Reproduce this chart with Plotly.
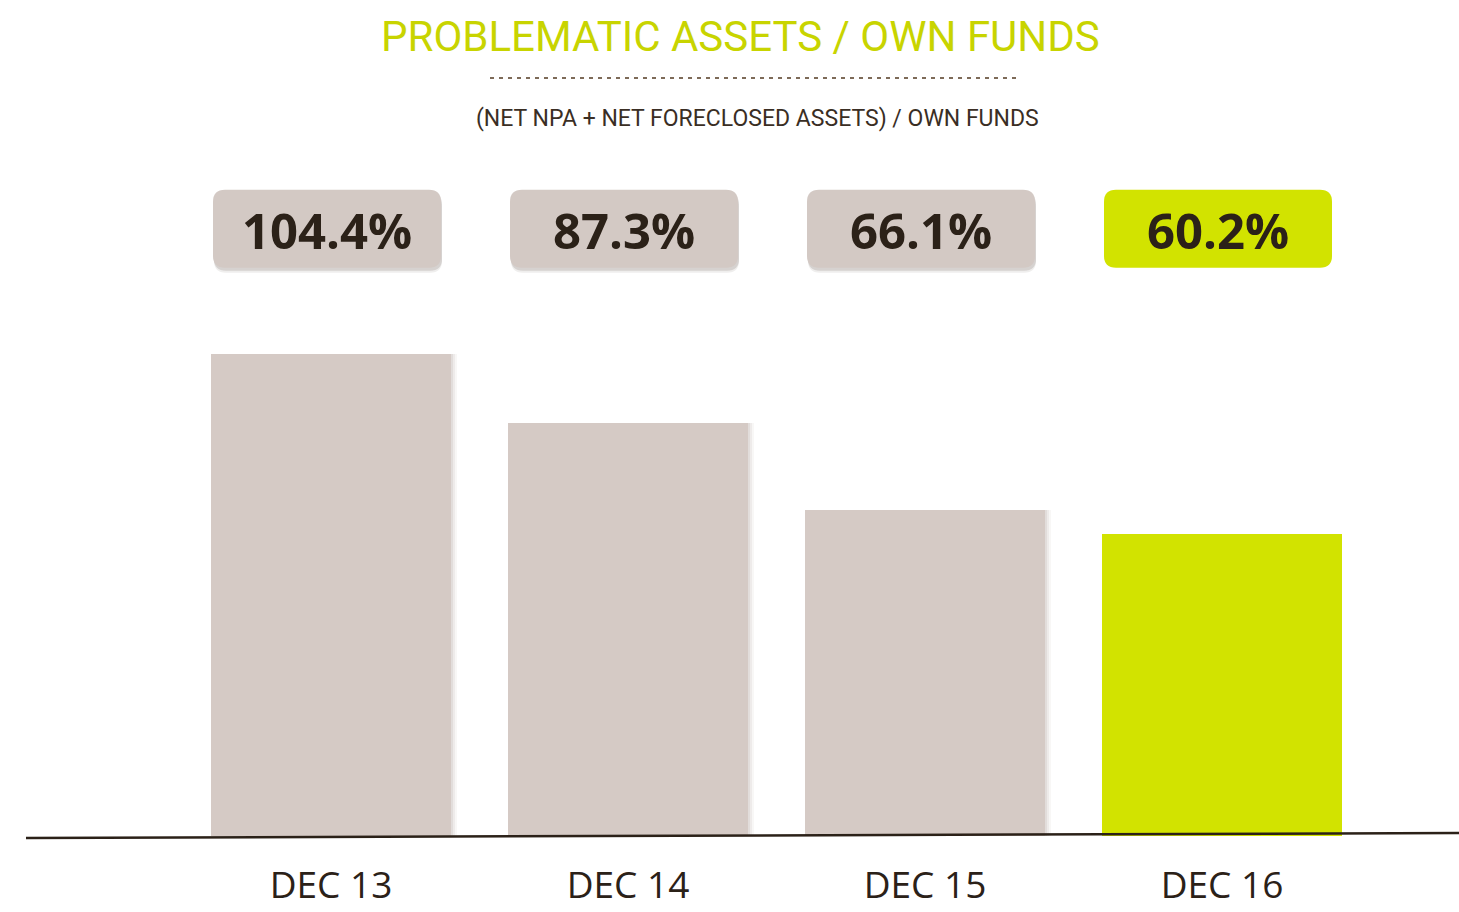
import plotly.graph_objects as go

categories = ["DEC 13", "DEC 14", "DEC 15", "DEC 16"]
values = [104.4, 87.3, 66.1, 60.2]
labels = ["104.4%", "87.3%", "66.1%", "60.2%"]
axis_floor = -14.0

GREY = "#d5cac5"
GREEN = "#d2e300"
DARK = "#2b2118"
TITLE_GREEN = "#c8d400"

bar_colors = [GREY, GREY, GREY, GREEN]
xpos = list(range(len(categories)))

W, H = 1459, 912
L, R, T, B = 26, 0, 180, 76
pw, ph = W - L - R, H - T - B
x_px_per_unit = 297.0
x0_px = 331.0
xr = [(L - x0_px) / x_px_per_unit, (W - R - x0_px) / x_px_per_unit]
y_px_per_unit = 180.0 / 44.2
yr = [axis_floor, axis_floor + ph / y_px_per_unit]

def px_x(p):
    return (p - L) / pw

def px_y(p):
    return (H - B - p) / ph

fig = go.Figure()

bw = 0.805
# soft shadow behind grey bars
for a, dx, dy in [(0.05, 6.0, 4.0), (0.07, 4.0, 2.5), (0.09, 2.0, 1.2)]:
    fig.add_trace(go.Bar(
        x=xpos[:3], y=[v - axis_floor + dy / y_px_per_unit for v in values[:3]],
        base=[axis_floor - dy / y_px_per_unit] * 3,
        width=bw, offset=-bw / 2 + dx / x_px_per_unit,
        marker=dict(color=f"rgba(110,90,80,{a})", line=dict(width=0)),
        hoverinfo="skip", showlegend=False))

fig.add_trace(go.Bar(
    x=xpos, y=[v - axis_floor for v in values], base=[axis_floor] * 4,
    width=bw, marker=dict(color=bar_colors, line=dict(width=0)),
    customdata=values, hovertemplate="%{customdata}%<extra></extra>",
    showlegend=False))

shapes = []
# value boxes
box_w = 228 / x_px_per_unit
box_top = 104.4 + (354 - 190) / y_px_per_unit
box_bot = 104.4 + (354 - 268) / y_px_per_unit
rx = 12 / x_px_per_unit
ry = 12 / y_px_per_unit

def rrect(x0, x1, y0, y1):
    return (f"M {x0+rx},{y0} L {x1-rx},{y0} Q {x1},{y0} {x1},{y0+ry} "
            f"L {x1},{y1-ry} Q {x1},{y1} {x1-rx},{y1} L {x0+rx},{y1} "
            f"Q {x0},{y1} {x0},{y1-ry} L {x0},{y0+ry} Q {x0},{y0} {x0+rx},{y0} Z")

for i, c in enumerate(bar_colors):
    cx = xpos[i] - 4 / x_px_per_unit
    x0, x1 = cx - box_w / 2, cx + box_w / 2
    if c == GREY:
        for a, dpx in [(0.10, 5), (0.18, 3)]:
            sdx = 1 / x_px_per_unit
            sdy = dpx / y_px_per_unit
            shapes.append(dict(type="path", xref="x", yref="y", layer="below",
                               path=rrect(x0 + sdx, x1 + sdx, box_bot - sdy, box_top - sdy),
                               fillcolor=f"rgba(100,85,75,{a})", line=dict(width=0)))
    shapes.append(dict(type="path", xref="x", yref="y", layer="below",
                       path=rrect(x0, x1, box_bot, box_top),
                       fillcolor="#d3c9c4" if c == GREY else GREEN, line=dict(width=0)))

# baseline (slightly tilted)
shapes.append(dict(type="line", xref="paper", yref="paper",
                   x0=0, x1=1, y0=px_y(838), y1=px_y(833),
                   line=dict(color=DARK, width=2.5), layer="above"))
# dashed separator under title
shapes.append(dict(type="line", xref="paper", yref="paper",
                   x0=px_x(490), x1=px_x(1018), y0=px_y(78), y1=px_y(78),
                   line=dict(color="#7d6a58", width=2, dash="4px,5px")))

annotations = []
for i, lab in enumerate(labels):
    annotations.append(dict(
        x=xpos[i] - 4 / x_px_per_unit, y=(box_top + box_bot) / 2, xref="x", yref="y",
        text=f"<b>{lab}</b>", showarrow=False, yshift=-1,
        xanchor="center", yanchor="middle",
        font=dict(family="Open Sans, Noto Sans, sans-serif", size=49, color=DARK)))

annotations.append(dict(
    x=px_x(740), y=px_y(36), xref="paper", yref="paper",
    xanchor="center", yanchor="middle",
    text="PROBLEMATIC ASSETS / OWN FUNDS", showarrow=False,
    font=dict(family="Roboto, sans-serif", size=42, color=TITLE_GREEN)))
annotations.append(dict(
    x=px_x(758), y=px_y(118), xref="paper", yref="paper",
    xanchor="center", yanchor="middle",
    text="(NET NPA + NET FORECLOSED ASSETS) / OWN FUNDS", showarrow=False,
    font=dict(family="Roboto, sans-serif", size=23, color="#3a2e24")))

fig.update_layout(
    width=W, height=H,
    margin=dict(l=L, r=R, t=T, b=B, pad=0, autoexpand=False),
    paper_bgcolor="white", plot_bgcolor="white",
    barmode="overlay", bargap=0,
    shapes=shapes, annotations=annotations,
    xaxis=dict(range=xr, tickmode="array", tickvals=xpos, ticktext=categories,
               showgrid=False, zeroline=False, showline=False, ticks="",
               automargin=False, ticklabelstandoff=24,
               tickfont=dict(family="Open Sans, Noto Sans, sans-serif", size=37, color=DARK),
               fixedrange=True),
    yaxis=dict(range=yr, visible=False, showgrid=False, zeroline=False,
               automargin=False, fixedrange=True),
)

fig.write_html("out.html", config={"displayModeBar": False},
               post_script="document.body.style.margin='0';document.body.style.overflow='hidden';")
